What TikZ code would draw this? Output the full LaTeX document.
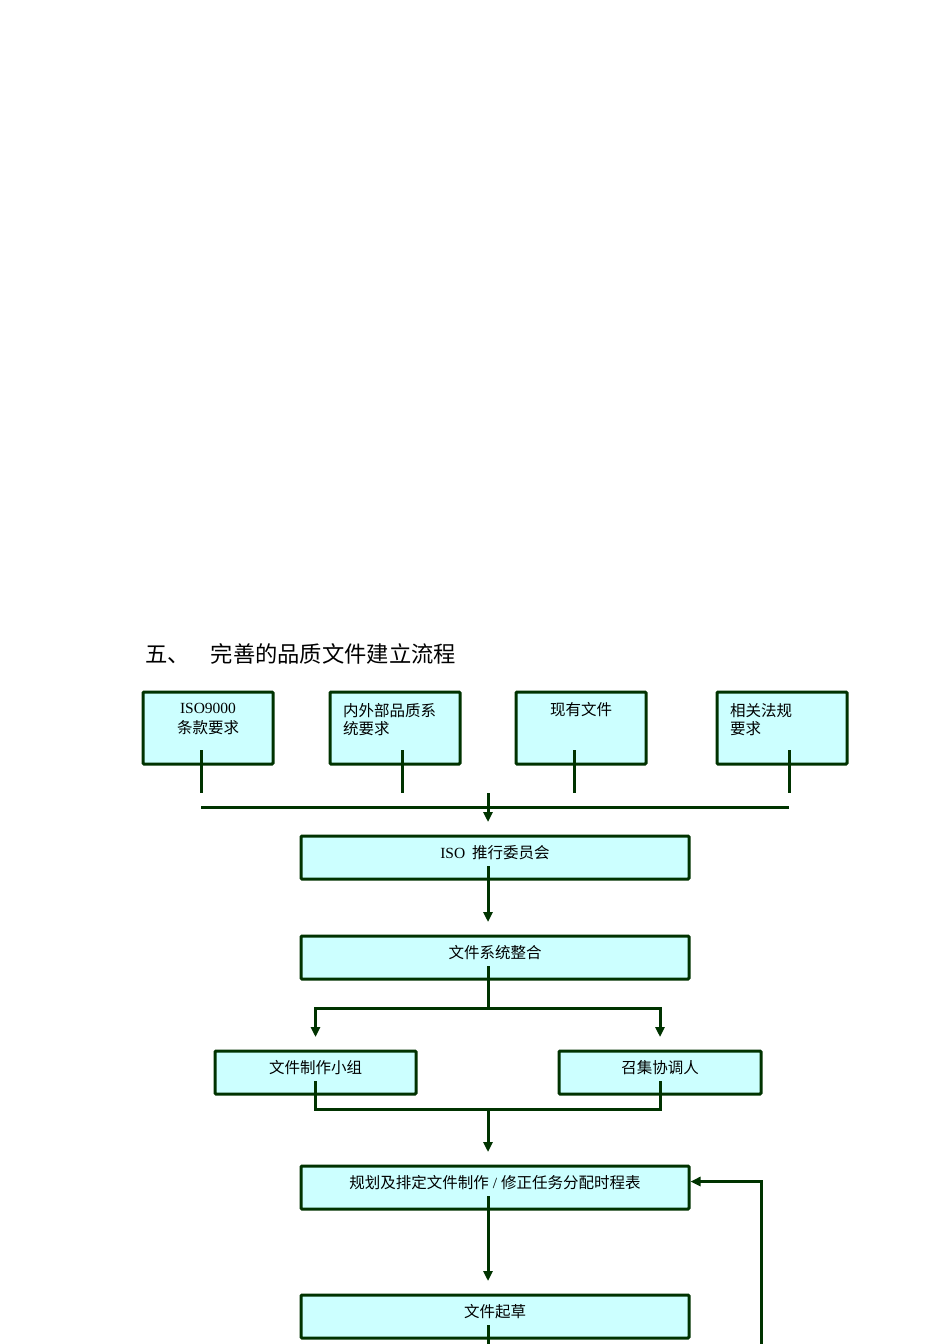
\documentclass[tikz,border=0pt]{standalone}
\usepackage{fontspec}
\setmainfont{Liberation Serif}
\newfontfamily\cjk{Noto Sans CJK SC}
\usetikzlibrary{arrows.meta}

\definecolor{linegreen}{HTML}{003300}
\definecolor{boxcyan}{HTML}{CCFFFF}

\tikzset{
  flowbox/.style={draw=linegreen, fill=boxcyan, line width=3pt, rounded corners=1pt,
    anchor=north west, inner sep=0pt, outer sep=0pt},
  boxtext/.style={font=\cjk\fontsize{15.5}{18}\selectfont, inner sep=0pt, align=center},
  titletext/.style={font=\cjk\fontsize{22.3}{26}\selectfont, anchor=west, inner sep=0pt},
  wire/.style={draw=linegreen, line width=3pt},
  flow/.style={wire, -{Triangle[length=10pt,width=9pt]}},
}

\begin{document}
\begin{tikzpicture}[x=1pt,y=1pt]
  \useasboundingbox (0,0) rectangle (950,-1344);

  \node[titletext] (title) at (145,-654) {五、\hspace{21pt}完善的品质文件建立流程};

  % inputs
  \node[flowbox, minimum width=130pt, minimum height=72pt,
    label={[boxtext, anchor=north, yshift=-11pt]north:{\rmfamily ISO9000}\\[2pt]条款要求}] (iso) at (143,-692) {};
  \node[flowbox, minimum width=130pt, minimum height=72pt,
    label={[boxtext, align=left, anchor=north west, xshift=13pt, yshift=-11pt]north west:内外部品质系\\统要求}] (inner) at (330,-692) {};
  \node[flowbox, minimum width=130pt, minimum height=72pt,
    label={[boxtext, anchor=north, yshift=-10pt]north:现有文件}] (exist) at (516,-692) {};
  \node[flowbox, minimum width=130pt, minimum height=72pt,
    label={[boxtext, align=left, anchor=north west, xshift=13pt, yshift=-11pt]north west:相关法规\\要求}] (law) at (717,-692) {};

  % steps
  \node[flowbox, minimum width=388pt, minimum height=43pt,
    label={[boxtext, anchor=north, yshift=-9pt]north:{\rmfamily ISO}\ \ 推行委员会}] (committee) at (301,-836) {};
  \node[flowbox, minimum width=388pt, minimum height=43pt,
    label={[boxtext, anchor=north, yshift=-9pt]north:文件系统整合}] (integ) at (301,-936) {};
  \node[flowbox, minimum width=201pt, minimum height=43pt,
    label={[boxtext, anchor=north, yshift=-9pt]north:文件制作小组}] (team) at (215,-1051) {};
  \node[flowbox, minimum width=202pt, minimum height=43pt,
    label={[boxtext, anchor=north, yshift=-9pt]north:召集协调人}] (coord) at (559,-1051) {};
  \node[flowbox, minimum width=388pt, minimum height=43pt,
    label={[boxtext, anchor=north, yshift=-9pt]north:规划及排定文件制作{\rmfamily\ /\ }修正任务分配时程表}] (plan) at (301,-1166) {};
  \node[flowbox, minimum width=388pt, minimum height=43pt,
    label={[boxtext, anchor=north, yshift=-9pt]north:文件起草}] (draft) at (301,-1295) {};

  % gather inputs
  \draw[wire] ([xshift=-7pt,yshift=14pt]iso.south) -- ++(0,-43);
  \draw[wire] ([xshift=7pt,yshift=14pt]inner.south) -- ++(0,-43);
  \draw[wire] ([xshift=-7pt,yshift=14pt]exist.south) -- ++(0,-43);
  \draw[wire] ([xshift=7pt,yshift=14pt]law.south) -- ++(0,-43);
  \coordinate (joinl) at (201,-807);
  \coordinate (joinr) at (789,-807);
  \draw[wire] (joinl) -- (joinr);
  \coordinate (gather) at (488,-793);
  \draw[flow] (gather) -- ([xshift=-7pt,yshift=14pt]committee.north);

  \draw[flow] ([xshift=-7pt,yshift=13pt]committee.south) -- ([xshift=-7pt,yshift=14pt]integ.north);

  % split and merge
  \draw[wire] ([xshift=-7pt,yshift=13pt]integ.south) -- ++(0,-42) coordinate (split);
  \draw[flow] (split) -| ([yshift=14pt]team.north);
  \draw[flow] (split) -| ([yshift=14pt]coord.north);
  \draw[wire] ([yshift=13pt]team.south) -- ++(0,-28) -| ([yshift=13pt]coord.south);
  \coordinate (merge) at (488,-1109);
  \draw[flow] (merge) -- ([xshift=-7pt,yshift=14pt]plan.north);

  \draw[flow] ([xshift=-7pt,yshift=13pt]plan.south) -- ([xshift=-7pt,yshift=14pt]draft.north);
  \draw[wire] ([xshift=-7pt,yshift=13pt]draft.south) -- ++(0,-30);

  % feedback loop
  \coordinate (back) at (761,-1350);
  \draw[flow] (back) |- ([yshift=6pt,xshift=1.5pt]plan.east);
\end{tikzpicture}
\end{document}
